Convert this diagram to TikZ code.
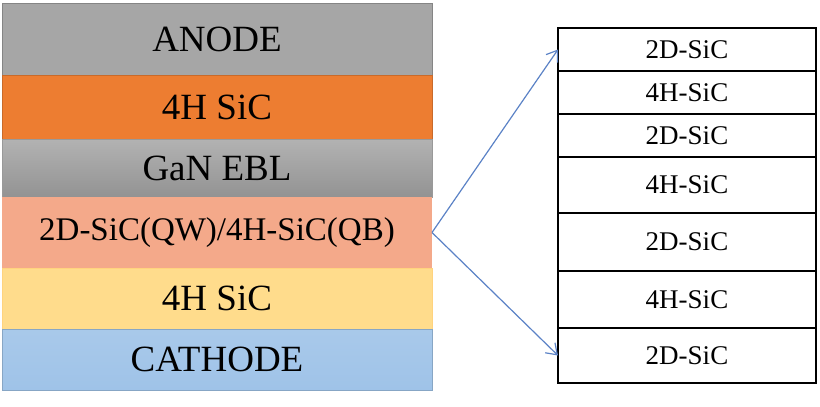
\documentclass[tikz,border=0pt]{standalone}
\usepackage{fontspec}
\setmainfont{Liberation Serif}
\usepackage{xcolor}
\usetikzlibrary{positioning,arrows.meta}

\definecolor{anodegray}{HTML}{A6A6A6}
\definecolor{sicorange}{HTML}{ED7D31}
\definecolor{qwsalmon}{HTML}{F4A98A}
\definecolor{sicyellow}{HTML}{FFDC8C}
\definecolor{cathblue}{HTML}{9FC3E8}
\definecolor{arrowblue}{HTML}{5B82C6}

\tikzset{
  layer/.style={rectangle, minimum width=215pt, inner sep=0pt, outer sep=0pt,
    font=\fontsize{18.5}{21}\selectfont},
  cell/.style={rectangle, draw=black, line width=1pt, minimum width=129pt,
    inner sep=0pt, outer sep=0pt, fill=white, font=\fontsize{13.5}{16}\selectfont}
}

\begin{document}
\begin{tikzpicture}[x=0.5pt, y=-0.5pt]
				\useasboundingbox (0, 0) rectangle (820, 407);
				
				%Device stack
				\node[layer, fill=anodegray, draw=anodegray!80!black, minimum height=36pt] (anode) at (217, 39) {ANODE};
				\node[layer, fill=sicorange, draw=sicorange!85!black, minimum height=32pt, below=0pt of anode] (sictop) {4H SiC};
				\node[layer, top color=gray!60, bottom color=gray!85, draw=gray!80, minimum height=29pt, below=0pt of sictop] (ebl) {GaN EBL};
				\node[layer, fill=qwsalmon, minimum height=35.5pt, below=0pt of ebl, font=\fontsize{16.5}{19}\selectfont] (qw) {2D-SiC(QW)/4H-SiC(QB)};
				\node[layer, fill=sicyellow, draw=sicyellow!90!orange, minimum height=30.5pt, below=0pt of qw] (sicbot) {4H SiC};
				\node[layer, top color=cathblue!90, bottom color=cathblue, draw=cathblue!85!black, minimum height=30.5pt, below=0pt of sicbot] (cathode) {CATHODE};
				
				%Quantum well detail
				\node[cell, minimum height=21.5pt] (r1) at (687, 49.5) {2D-SiC};
				\node[cell, minimum height=21.5pt, below=0pt of r1] (r2) {4H-SiC};
				\node[cell, minimum height=21.5pt, below=0pt of r2] (r3) {2D-SiC};
				\node[cell, minimum height=28pt, below=0pt of r3] (r4) {4H-SiC};
				\node[cell, minimum height=29pt, below=0pt of r4] (r5) {2D-SiC};
				\node[cell, minimum height=28.5pt, below=0pt of r5] (r6) {4H-SiC};
				\node[cell, minimum height=27.5pt, below=0pt of r6] (r7) {2D-SiC};
				
				%Lines
				\draw[arrowblue, line width=0.6pt, -{Straight Barb[length=5pt, width=7pt]}] (qw.east) -- (r1.west);
				\draw[arrowblue, line width=0.6pt, -{Straight Barb[length=5pt, width=7pt]}] (qw.east) -- (r7.west);
			\end{tikzpicture}
\end{document}
